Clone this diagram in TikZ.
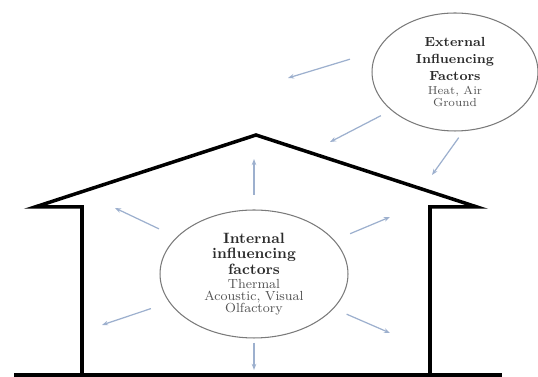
\documentclass[tikz,border=0pt]{standalone}
\usepackage{xcolor}
\usepackage{tikz}
\usetikzlibrary{shapes.geometric}
\usetikzlibrary{arrows.meta}

\definecolor{ringgrey}{HTML}{7A7A7A}
\definecolor{flowblue}{HTML}{9DB0CE}
\definecolor{headgrey}{HTML}{2B2B2B}
\definecolor{subgrey}{HTML}{555555}

\newcommand{\subline}[2]{{\fontsize{#1}{#1}\selectfont\mdseries\color{subgrey}#2}}

\begin{document}
\begin{tikzpicture}[x=0.02cm, y=-0.02cm,
        zone/.style={ellipse, draw=ringgrey, line width=0.6pt, inner sep=0,
                     align=center, text=headgrey},
        flow/.style={flowblue, line width=0.7pt, -{Stealth[length=3.5pt,width=2.6pt]}}]
      \useasboundingbox (0,0) rectangle (538,377);

      % house
      \draw[line width=2pt] (82,375) -- (82,207) -- (35,207) -- (256,135)
            -- (477,207) -- (430,207) -- (430,375);
      \draw[line width=2pt] (14,375) -- (502,375);

      \node[zone, minimum width=3.76cm, minimum height=2.56cm,
            font=\fontsize{8.5}{9}\selectfont\bfseries]  (int)  at (254,274)
            {Internal\\influencing\\factors\\[-1pt]
             \subline{7.5}{Thermal}\\[-2.2pt]\subline{7.5}{Acoustic, Visual}\\[-2.2pt]
             \subline{7.5}{Olfactory}};
      \node[zone, minimum width=3.32cm, minimum height=2.36cm,
            font=\fontsize{7.5}{9.5}\selectfont\bfseries]  (ext)  at (455,72)
            {External\\Influencing\\Factors\\[-1.5pt]
             \subline{6.6}{Heat, Air}\\[-2.7pt]\subline{6.6}{Ground}};

      \coordinate (up)  at (254,159);
      \coordinate (ul)  at (115,208);
      \coordinate (ll)  at (102,325);
      \coordinate (dn)  at (254,370);
      \coordinate (lr)  at (390,333);
      \coordinate (ur)  at (390,217);
      \coordinate (e1)  at (288,78);
      \coordinate (e2)  at (330,142);
      \coordinate (e3)  at (432,175);

      \path [flow] (int) edge [shorten <=8.5pt]  (up)
                   edge [shorten <=11pt]  (ul)
                   edge [shorten <=11pt]  (ll)
                   edge [shorten <=2.3pt]  (dn)
                   edge [shorten <=8pt]  (lr)
                   edge [shorten <=9.6pt]  (ur)
                (ext.165.3) edge [shorten <=16pt]  (e1)
                (ext.211.7) edge [shorten <=6.6pt]  (e2)
                (ext.278.4) edge [shorten <=4.5pt]  (e3);
      \end{tikzpicture}
\end{document}
